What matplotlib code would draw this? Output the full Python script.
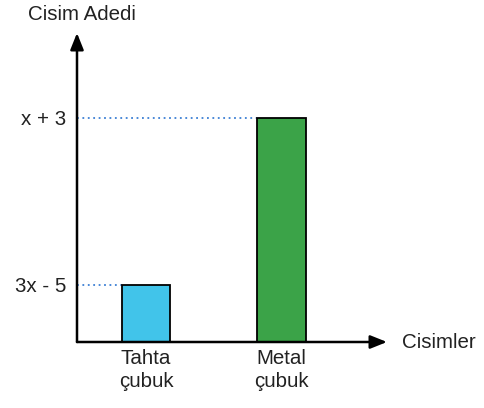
import matplotlib
matplotlib.use("Agg")
import matplotlib.pyplot as plt

# data (relative heights; 3x - 5 taken as 1 unit)
categories = ["Tahta\nçubuk", "Metal\nçubuk"]
values = [1.0, 3.93]
value_labels = ["3x - 5", "x + 3"]
bar_colors = ["#41c4ea", "#3ba348"]

plt.rcParams["font.family"] = ["Liberation Sans", "DejaVu Sans"]
TXT = "#222222"

W, H = 485, 408
fig = plt.figure(figsize=(W / 100, H / 100), dpi=100)
# origin of the axes at pixel (77, 342), arrow tips at x=387 and y=33
ax = fig.add_axes([77 / W, (H - 342) / H, (387 - 77) / W, (342 - 33) / H])
ax.set_xlim(-0.509, 1.779)
ax.set_ylim(0, 5.42)

pos = range(len(categories))
ax.bar(pos, values, width=0.36, color=bar_colors, edgecolor="black", linewidth=1.3, zorder=3)

# dotted guide lines from the y axis to each bar top
for x, v in zip(pos, values):
    ax.plot([-0.509, x - 0.18], [v, v], ls=(0, (1, 2)), color="#3b7fd4", lw=1.3, zorder=2)

ax.set_yticks(values, value_labels, fontsize=14.8, color=TXT)
ax.set_xticks(list(pos), categories, fontsize=14.8, color=TXT, linespacing=1.3)
ax.tick_params(axis="y", length=0, pad=8)
ax.tick_params(axis="x", length=0, pad=5)

for s in ("top", "right", "left", "bottom"):
    ax.spines[s].set_visible(False)

# axes with arrow heads
arrow = dict(arrowstyle="-|>,head_length=1.0,head_width=0.4", color="black", lw=1.8, shrinkA=0, shrinkB=0)
ax.annotate("", xy=(0, 1), xytext=(0, 0), xycoords="axes fraction", arrowprops=arrow)
ax.annotate("", xy=(1, 0), xytext=(0, 0), xycoords="axes fraction", arrowprops=arrow)

fig.text(82 / W, 1 - 15 / H, "Cisim Adedi", fontsize=14.8, color=TXT, ha="center", va="center")
fig.text(402 / W, 1 - 342 / H, "Cisimler", fontsize=14.8, color=TXT, ha="left", va="center")

fig.savefig("out.png", dpi=100, facecolor="white")
